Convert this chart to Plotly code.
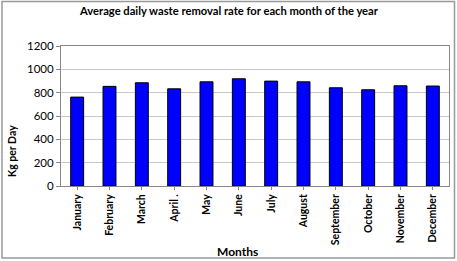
import plotly.graph_objects as go

months = ["January", "February", "March", "April .", "May", "June", "July",
          "August", "September", "October", "November", "December"]
kg_per_day = [762, 854, 885, 833, 893, 919, 899, 893, 842, 825, 859, 857]
y_ticks = [0, 200, 400, 600, 800, 1000, 1200]

W, H = 457, 261
ml, mr, mt, mb = 61, 8, 46, 75
pw = W - ml - mr
ph = H - mt - mb

fig = go.Figure(go.Bar(
    x=months, y=kg_per_day,
    marker=dict(color="#0000FF", line=dict(color="#000000", width=1)),
    hoverinfo="skip",
))

font = "Lato"
fig.update_layout(
    width=W, height=H,
    margin=dict(l=ml, r=mr, t=mt, b=mb, autoexpand=False),
    paper_bgcolor="white", plot_bgcolor="white",
    bargap=0.6,
    showlegend=False,
    title=dict(text="<b>Average daily waste removal rate for each month of the year</b>",
               x=(79 + 379) / 2 / W, xanchor="center", y=1 - 11 / H, yanchor="middle",
               font=dict(family=font, size=11.2, color="black")),
    font=dict(family=font, color="black"),
)
fig.update_xaxes(
    automargin=False,
    tickangle=-90, tickfont=dict(family=font, size=10.5, color="black"),
    tickprefix="<b>", ticksuffix="</b>",
    showline=True, linecolor="#888888", linewidth=1, mirror=True,
    ticks="outside", ticklen=3, tickcolor="#888888",
)
fig.update_yaxes(
    automargin=False,
    range=[0, 1200], tickvals=y_ticks,
    tickprefix="<b>", ticksuffix="</b>",
    tickfont=dict(family=font, size=11.5, color="black"),
    showgrid=True, gridcolor="#C8C8C8", gridwidth=1,
    showline=True, linecolor="#888888", linewidth=1, mirror=True,
    ticks="outside", ticklen=4, tickcolor="#888888",
    zeroline=False,
)
# axis titles
fig.add_annotation(text="<b>Months</b>", xref="paper", yref="paper",
                   x=(237 - ml) / pw, y=-(251 - (H - mb)) / ph,
                   xanchor="center", yanchor="middle", showarrow=False,
                   font=dict(family=font, size=12, color="black"))
fig.add_annotation(text="<b>Kg per Day</b>", xref="paper", yref="paper",
                   x=-(ml - 12) / pw, y=((H - mb) - 151) / ph,
                   xanchor="center", yanchor="middle", showarrow=False, textangle=-90,
                   font=dict(family=font, size=10.5, color="black"))
# outer border of the chart
fig.add_shape(type="rect", xref="paper", yref="paper",
              x0=(2 - ml) / pw, x1=(W - 2.5 - ml) / pw,
              y0=-(mb - 3) / ph,
              y1=1 + (mt - 1.5) / ph,
              line=dict(color="#999999", width=1.5), layer="above")

fig.write_html("out.html", config={"displayModeBar": False},
               post_script="document.body.style.margin='0';document.body.style.overflow='hidden';")
